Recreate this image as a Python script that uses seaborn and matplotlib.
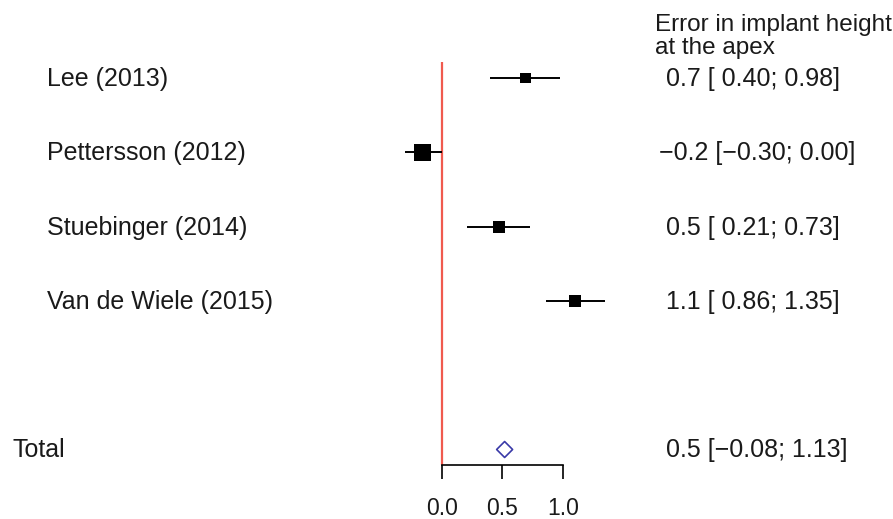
import matplotlib
matplotlib.use("Agg")
import matplotlib.pyplot as plt
import seaborn as sns
import pandas as pd

# Study-level results
studies = ["Lee (2013)", "Pettersson (2012)", "Stuebinger (2014)", "Van de Wiele (2015)"]
estimates = [0.69, -0.16, 0.47, 1.10]
ci_low = [0.40, -0.30, 0.21, 0.86]
ci_high = [0.98, 0.00, 0.73, 1.35]
weights = [16.8, 41.0, 21.1, 21.1]

# Pooled result
total_label = "Total"
total_est = 0.52
total_low = -0.08
total_high = 1.13

header = ["Error in implant height", "at the apex"]
xticks = [0.0, 0.5, 1.0]

rows = [1, 2, 3, 4]
total_row = 6

W, H, DPI = 893, 519, 100
X0_PX, UNIT_PX = 441.7, 121.0      # pixel of x=0 and pixels per unit
ROW0_PX, ROW_PX = 78.0, 74.3        # pixel of first row and row spacing
AXIS_PX = 465.0                     # pixel of the x axis line


def row_to_y(px):
    return 1 + (px - ROW0_PX) / ROW_PX


def fmt(v, nd):
    s = f"{abs(v):.{nd}f}"
    return ("\u2212" if v < 0 else " ") + s


def ci_text(est, lo, hi):
    return f"{fmt(est, 1)} [{fmt(lo, 2)}; {hi:.2f}]"


sns.set_theme(style="white")
plt.rcParams["font.family"] = ["Liberation Sans", "DejaVu Sans"]

fig = plt.figure(figsize=(W / DPI, H / DPI), dpi=DPI)
ax = fig.add_axes([0, (H - AXIS_PX) / H, 1, AXIS_PX / H])
ax.set_xlim(-X0_PX / UNIT_PX, (W - X0_PX) / UNIT_PX)
ax.set_ylim(row_to_y(AXIS_PX), row_to_y(0))

df = pd.DataFrame({"study": studies, "est": estimates, "lo": ci_low,
                   "hi": ci_high, "w": weights, "row": rows})

# Reference line at zero
ax.vlines(0, row_to_y(62), row_to_y(AXIS_PX), color="#F05A4E", lw=1.6, zorder=1)

# Confidence intervals and weighted squares
ax.hlines(df["row"], df["lo"], df["hi"], color="black", lw=1.4, zorder=2)
sns.scatterplot(data=df, x="est", y="row", size="w", sizes=(0, 144),
                size_norm=(0, max(weights)), marker="s", color="black",
                linewidth=0, legend=False, ax=ax, zorder=3)

# Pooled estimate
sns.scatterplot(x=[total_est], y=[total_row], marker="D", s=66,
                facecolor="none", edgecolor="#3A3AA8", linewidth=1.2,
                ax=ax, zorder=3)

# Axis styling
for side in ["top", "left", "right"]:
    ax.spines[side].set_visible(False)
ax.spines["bottom"].set_bounds(0, 1)
ax.spines["bottom"].set_linewidth(1.2)
ax.spines["bottom"].set_color("black")
ax.set_xticks(xticks)
ax.set_xticklabels([f"{t:.1f}" for t in xticks])
ax.tick_params(axis="x", bottom=True, length=10, width=1.2, color="black",
               pad=13, labelsize=16.5, labelcolor="#1a1a1a")
ax.set_yticks([])
ax.set_xlabel("")
ax.set_ylabel("")

tr = ax.get_yaxis_transform()
TXT = dict(fontsize=18, color="#1a1a1a", va="baseline", transform=tr)
BASE = 8  # baseline offset below row centre, pixels

# Study labels and values
for r, name, e, lo, hi in zip(rows, studies, estimates, ci_low, ci_high):
    yb = row_to_y(ROW0_PX + ROW_PX * (r - 1) + BASE)
    ax.text(47 / W, yb, name, ha="left", **TXT)
    ax.text(659 / W, yb, ci_text(e, lo, hi), ha="left", **TXT)

yb = row_to_y(ROW0_PX + ROW_PX * (total_row - 1) + BASE)
ax.text(12.5 / W, yb, total_label, ha="left", **TXT)
ax.text(659 / W, yb, ci_text(total_est, total_low, total_high), ha="left", **TXT)

# Column header
ax.text(655 / W, row_to_y(31), header[0], ha="left", fontsize=17.5,
        color="#1a1a1a", va="baseline", transform=tr)
ax.text(655 / W, row_to_y(54), header[1], ha="left", fontsize=17.5,
        color="#1a1a1a", va="baseline", transform=tr)

fig.savefig("out.png", dpi=DPI, facecolor="white")
